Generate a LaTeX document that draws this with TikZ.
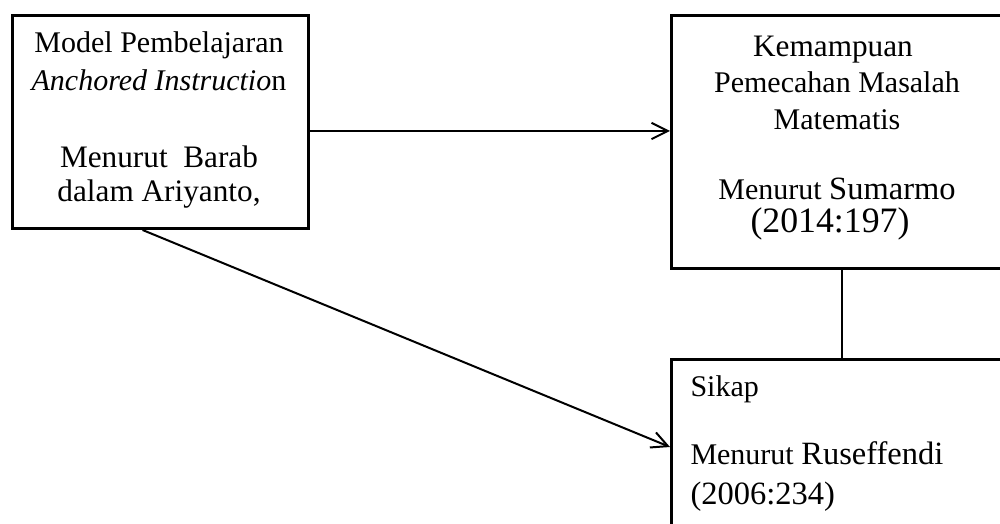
\documentclass[tikz,border=0pt]{standalone}
\usepackage{fontspec}
\setmainfont{Liberation Serif}
\usepackage{tikz}
\usetikzlibrary{arrows.meta,positioning,calc}
\newcommand{\szA}{\fontsize{12}{14}\selectfont}
\newcommand{\szB}{\fontsize{12.5}{15}\selectfont}
\newcommand{\szC}{\fontsize{13}{16}\selectfont}
\newcommand{\szD}{\fontsize{14.3}{17}\selectfont}
\tikzset{
  box/.style={draw,line width=1.2pt,inner sep=0pt,anchor=north west},
  txt/.style={anchor=base,inner sep=0pt,font=\szA},
  arr/.style={line width=0.8pt,-{Straight Barb[length=6.5pt,width=6.5pt]}}
}

\begin{document}
\begin{tikzpicture}[x=0.4pt,y=-0.4pt]
  \useasboundingbox (0,0) rectangle (1000,524);
  \clip (0,0) rectangle (1000,524);
  \node[box,minimum width=296*0.4pt,minimum height=213*0.4pt] (model) at (11,14) {};
  \node[box,minimum width=340*0.4pt,minimum height=253*0.4pt] (kpm) at (670,14) {};
  \node[box,minimum width=340*0.4pt,minimum height=182*0.4pt] (sikap) at (670,358) {};
  % teks kotak kiri
  \node[txt] (m1) at (159,53) {Model Pembelajaran};
  \node[txt] (m2) at (159,91) {\textit{Anchored Instructio}n};
  \node[txt,font=\szB] (m3) at (159,168) {Menurut\ \ Barab};
  \node[txt,font=\szB] (m4) at (159,202) {dalam Ariyanto,};
  % teks kotak kanan atas
  \node[txt,font=\szB] (k1) at (833,57) {Kemampuan};
  \node[txt] (k2) at (837,93) {Pemecahan Masalah};
  \node[txt] (k3) at (837,130) {Matematis};
  \node[txt] (k4) at (837,200) {Menurut {\szC Sumarmo}};
  \node[txt,font=\szD] (k5) at (830,233) {(2014:197)};
  % teks kotak kanan bawah
  \node[txt,anchor=base west] (s1) at (690,397) {Sikap};
  \node[txt,anchor=base west] (s2) at (690,465) {Menurut {\szC Ruseffendi}};
  \node[txt,anchor=base west,font=\szC] (s3) at (690,505) {(2006:234)};
  \draw[arr] (model.east |- 0,131) -- (kpm.west |- 0,131);
  \draw[arr] ($(model.south west)!0.44!(model.south east)$) -- (sikap.west |- 0,447);
  \draw[line width=0.8pt] (kpm.south) -- (sikap.north);
\end{tikzpicture}
\end{document}
